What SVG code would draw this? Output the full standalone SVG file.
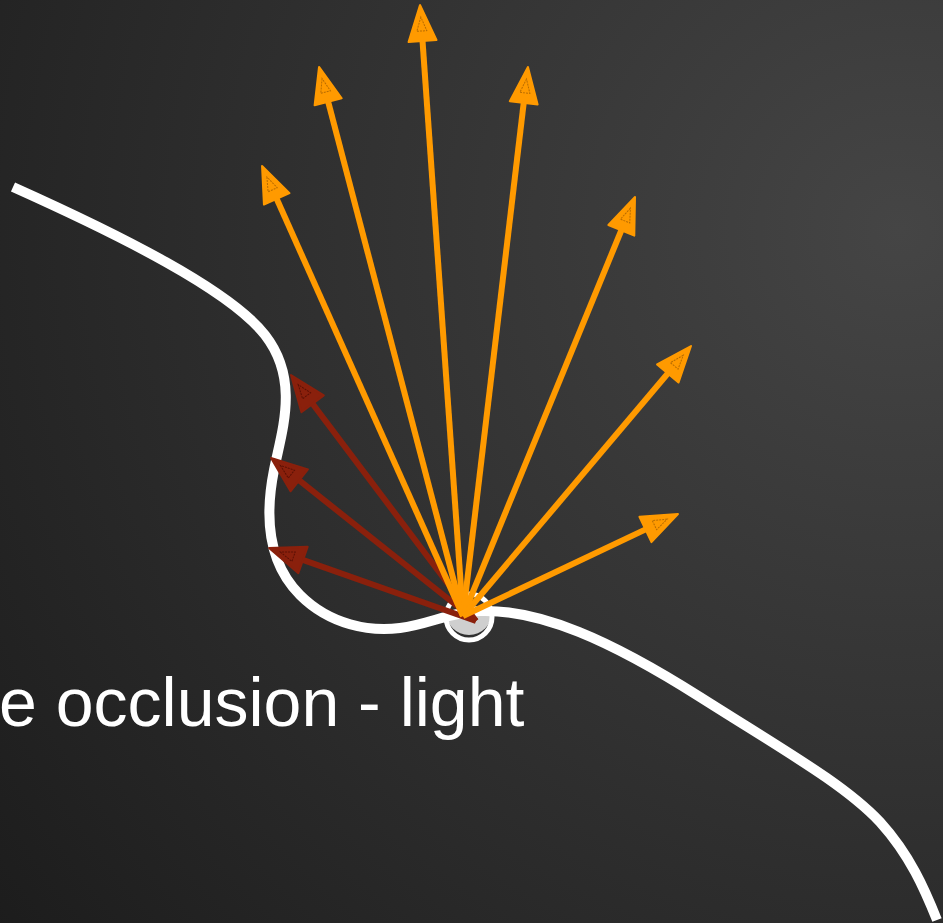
<svg xmlns="http://www.w3.org/2000/svg" width="943" height="923" viewBox="0 0 943 923">
<defs>
<radialGradient id="bg" gradientUnits="userSpaceOnUse" cx="900" cy="230" r="1150">
<stop offset="0" stop-color="#454545"/>
<stop offset="1" stop-color="#1c1c1c"/>
</radialGradient>
<marker id="hO" markerUnits="userSpaceOnUse" viewBox="-18 -17 41 34" refX="0" refY="0" markerWidth="41" markerHeight="34" orient="auto">
<path d="M20,0 L-16,-14 L-16,14 Z" fill="#ff9a00" stroke="#ff9a00" stroke-width="2" stroke-linejoin="round"/>
<path d="M8,0 L-6,-5 L-6,5 Z" fill="none" stroke="#b86c00" stroke-width="1" stroke-dasharray="2,1"/>
</marker>
<marker id="hR" markerUnits="userSpaceOnUse" viewBox="-18 -17 41 34" refX="0" refY="0" markerWidth="41" markerHeight="34" orient="auto">
<path d="M20,0 L-16,-14 L-16,14 Z" fill="#8a200c" stroke="#8a200c" stroke-width="2" stroke-linejoin="round"/>
<path d="M8,0 L-6,-5 L-6,5 Z" fill="none" stroke="#5a1005" stroke-width="1" stroke-dasharray="2,1"/>
</marker>
</defs>
<style>
.o{stroke:#ff9a00;stroke-width:6;fill:none;marker-end:url(#hO)}
.r{stroke:#8a200c;stroke-width:6;fill:none;marker-end:url(#hR)}
</style>
<rect width="943" height="923" fill="url(#bg)"/>
<g id="surface">
<path d="M447,612 L491,612 A23,23 0 0 1 447,612 Z" fill="#cfcfcf"/>
<path d="M446,612 A23,23 0 1 0 492,612" fill="#cfcfcf"/>
<circle cx="469" cy="617" r="23" fill="none" stroke="#fff" stroke-width="5"/>
<path d="M13,187 C120,235 230,290 265,335 C300,380 282,430 274,470 C266,510 265,560 300,595 C330,625 370,632 400,628 C430,624 450,612 480,611 C540,609 610,640 700,697 C790,754 845,785 880,822 C910,855 925,890 937,920" fill="none" stroke="#fff" stroke-width="10"/>
</g>
<g id="connectors">
<line class="r" x1="476" y1="621" x2="303.0" y2="391.0"/>
<line class="r" x1="476" y1="621" x2="286.7" y2="470.4"/>
<line class="r" x1="476" y1="621" x2="287.9" y2="554.7"/>
<line class="o" x1="463" y1="616" x2="270.2" y2="184.3"/>
<line class="o" x1="463" y1="616" x2="324.1" y2="86.3"/>
<line class="o" x1="463" y1="616" x2="421.4" y2="25.0"/>
<line class="o" x1="463" y1="616" x2="525.6" y2="86.9"/>
<line class="o" x1="463" y1="616" x2="627.4" y2="215.5"/>
<line class="o" x1="463" y1="616" x2="678.1" y2="361.3"/>
<line class="o" x1="463" y1="616" x2="659.9" y2="522.6"/>
</g>
<g id="label">
<text x="-1" y="726" font-family="Liberation Sans, Arial, sans-serif" font-size="68" fill="#fff">e occlusion - light</text>
</g>
</svg>
